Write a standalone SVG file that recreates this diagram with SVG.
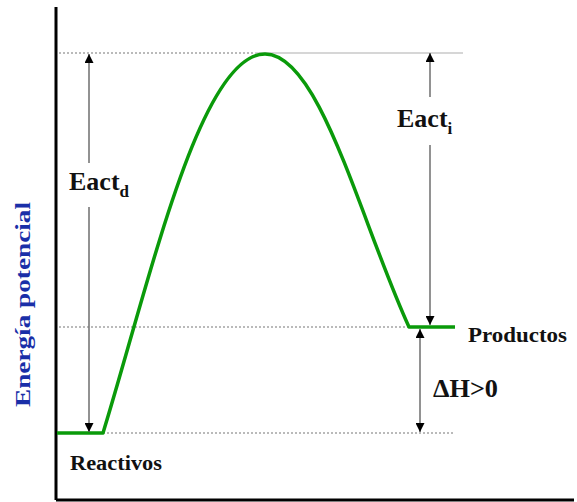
<svg xmlns="http://www.w3.org/2000/svg" width="577" height="502" viewBox="0 0 577 502">
<defs>
<style>
.axis{stroke:#000;stroke-width:3;fill:none}
.dot{stroke:#777;stroke-width:1.2;stroke-dasharray:2,2;fill:none}
.solid{stroke:#c8c8c8;stroke-width:1.5;fill:none}
.arr{stroke:#777;stroke-width:1.6;fill:none}
.curve{stroke:#0a9a0a;stroke-width:3.5;fill:none;stroke-linejoin:round}
.lbl{font-family:"Liberation Serif","Times New Roman",serif;font-weight:bold;fill:#111}
.ylab{font-family:"Liberation Serif","Times New Roman",serif;font-weight:bold;fill:#1a2fa8;font-size:21px}
</style>
<marker id="ah" viewBox="0 0 10 10" refX="10" refY="5" markerWidth="9" markerHeight="9" markerUnits="userSpaceOnUse" orient="auto">
<path d="M0,0 L10,5 L0,10 z" fill="#000"/>
</marker>
</defs>
<rect width="577" height="502" fill="#fff"/>
<g id="axes">
<line class="axis" x1="56" y1="7" x2="56" y2="500"/>
<line class="axis" x1="56" y1="500" x2="574" y2="500"/>
</g>
<g id="levels">
<line class="dot" x1="59" y1="53" x2="255" y2="53"/>
<line class="solid" x1="255" y1="53" x2="463" y2="53"/>
<line class="dot" x1="59" y1="327" x2="409" y2="327"/>
<line class="dot" x1="103" y1="433" x2="455" y2="433"/>
</g>
<g id="curve">
<path class="curve" d="M57,433 L103,433 C150,280 200,54 265,54 C320,54 360,220 409,327 L455,327"/>
</g>
<g id="connectors">
<line class="arr" x1="89" y1="163" x2="89" y2="54" marker-end="url(#ah)"/>
<line class="arr" x1="89" y1="207" x2="89" y2="432" marker-end="url(#ah)"/>
<line class="arr" x1="430" y1="97" x2="430" y2="53" marker-end="url(#ah)"/>
<line class="arr" x1="430" y1="145" x2="430" y2="325" marker-end="url(#ah)"/>
<line class="arr" x1="420" y1="380" x2="420" y2="329" marker-end="url(#ah)"/>
<line class="arr" x1="420" y1="380" x2="420" y2="432" marker-end="url(#ah)"/>
</g>
<g id="eactd">
<text class="lbl" x="69" y="190" font-size="26">Eact<tspan font-size="17" dy="7">d</tspan></text>
</g>
<g id="eacti">
<text class="lbl" x="397" y="127" font-size="26">Eact<tspan font-size="17" dy="7">i</tspan></text>
</g>
<g id="deltaH">
<text class="lbl" x="433" y="397" font-size="25" textLength="65" lengthAdjust="spacingAndGlyphs">ΔH&gt;0</text>
</g>
<g id="productos">
<text class="lbl" x="468" y="342" font-size="20" textLength="99" lengthAdjust="spacingAndGlyphs">Productos</text>
</g>
<g id="reactivos">
<text class="lbl" x="70" y="470" font-size="20" textLength="92" lengthAdjust="spacingAndGlyphs">Reactivos</text>
</g>
<g id="ylabel">
<text class="ylab" transform="translate(30,407) rotate(-90)" textLength="205" lengthAdjust="spacingAndGlyphs">Energía potencial</text>
</g>
</svg>
